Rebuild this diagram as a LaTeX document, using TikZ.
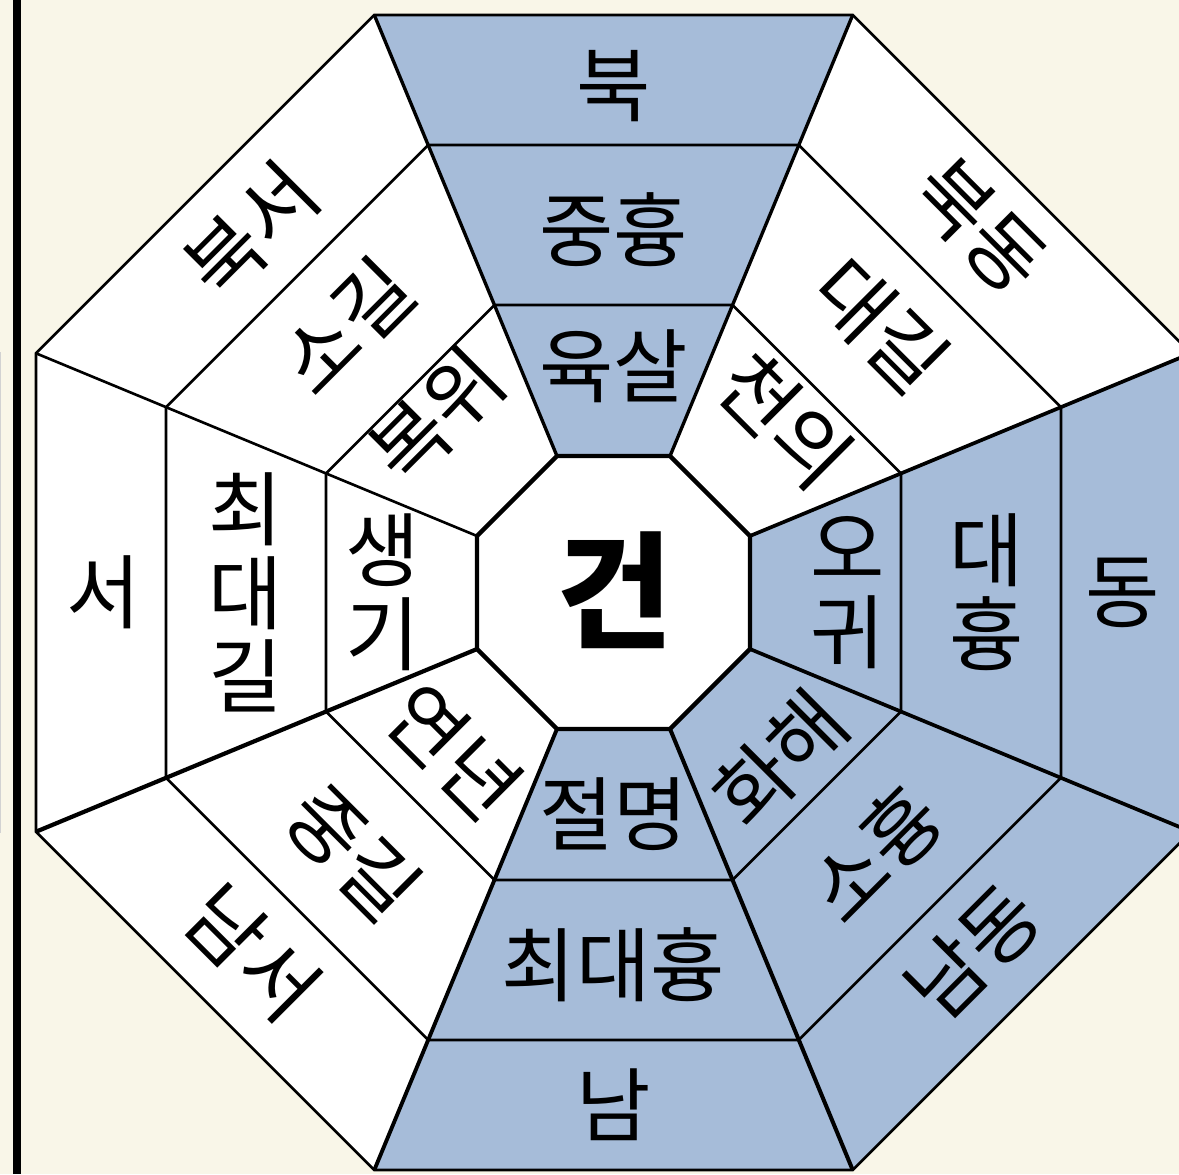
\documentclass[tikz,border=0pt]{standalone}
\usepackage{fontspec}
\usepackage{xcolor}
\usepackage{tikz}
\newfontfamily\kr{Noto Sans CJK KR}
\definecolor{paper}{HTML}{F9F6E8}
\definecolor{bagua}{HTML}{A6BCD9}

\begin{document}
\begin{tikzpicture}[x=0.02cm,y=0.02cm,
  ring/.style={line width=1.5pt,line join=miter},
  word/.style={font=\kr\fontsize{46}{47.6}\selectfont,align=center,inner sep=0pt}
]

% Page
\useasboundingbox (-613.5,-581.5) rectangle (565.5,592.5);
\fill[paper] (-613.5,-581.5) rectangle (565.5,592.5);
\clip (-613.5,-581.5) rectangle (565.5,592.5);
\fill[black] (-600.5,-581.5) rectangle (-592.5,592.5);
\draw[gray!35,line width=0.6pt] (-613,-240) -- (-613,240.5);

% Sectors
\foreach \c/\col in {0/bagua,45/white,90/bagua,135/white,180/white,225/white,270/bagua,315/bagua}
  \fill[\col] ({\c-22.5}:147.75) -- ({\c+22.5}:147.75)
    -- ({\c+22.5}:625.08) -- ({\c-22.5}:625.08) -- cycle;

% Rings
\foreach \r in {311.18,484.37,625.08}
  \draw[ring] (22.5:\r) \foreach \k in {1,...,7} {-- ({22.5+45*\k}:\r)} -- cycle;

% Spokes
\foreach \a/\w in {22.5/2.1pt,67.5/1.9pt,112.5/1.9pt,157.5/1.5pt,
                   202.5/2.4pt,247.5/2.2pt,292.5/2.3pt,337.5/2.1pt}
  \draw[line width=\w] (\a:147.75) -- (\a:625.08);

% Centre
\draw[line width=2.5pt,line join=miter,fill=white]
  (22.5:147.75) \foreach \k in {1,...,7} {-- ({22.5+45*\k}:147.75)} -- cycle;
\node[font=\kr\bfseries\fontsize{72}{74}\selectfont,inner sep=0pt] (geon) at (1.5,2.5) {건};

% North
\node[word] (yuksal) at (90:226) {육살};
\node[word] (junghyung) at (90:363) {중흉};
\node[word] (buk) at (90:506) {북};

% Northeast
\node[word,rotate=-45] (cheonui) at (45:243) {천의};
\node[word,rotate=-45] (daegil) at (45:378) {대길};
\node[word,rotate=-45] (bukdong) at (45:518) {북동};

% East
\node[word] (ogwi) at (0:234) {오\\귀};
\node[word] (daehyung) at (0:373) {대\\흉};
\node[word] (dong) at (0:509) {동};

% Southeast
\node[word,rotate=45] (hwahae) at (-45:236) {화해};
\node[word,rotate=45] (sohyung) at (-45:370) {소흉};
\node[word,rotate=45] (namdong) at (-45:508) {남동};

% South
\node[word] (jeolmyeong) at (-90:222) {절명};
\node[word] (choedaehyung) at (-90:372) {최대흉};
\node[word] (nam) at (-90:512) {남};

% Southwest
\node[word,rotate=-45] (yeonnyeon) at (-135:225) {연년};
\node[word,rotate=-45] (junggil) at (-135:368) {중길};
\node[word,rotate=-45] (namseo) at (-135:510) {남서};

% West
\node[word] (saenggi) at (180:231) {생\\기};
\node[word] (choedaegil) at (180:368) {최\\대\\길};
\node[word] (seo) at (180:510) {서};

% Northwest
\node[word,rotate=45] (bogwi) at (135:250) {복위};
\node[word,rotate=45] (sogil) at (135:377) {소길};
\node[word,rotate=45] (bukseo) at (135:512) {북서};

\end{tikzpicture}
\end{document}
